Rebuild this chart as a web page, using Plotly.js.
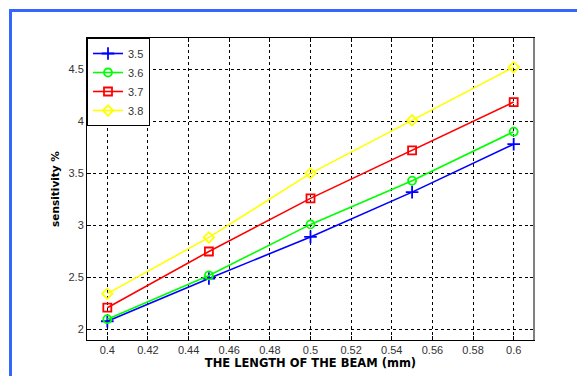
<!DOCTYPE html>
<html>
<head>
<meta charset="utf-8">
<script src="https://cdn.plot.ly/plotly-3.0.1.min.js"></script>
<style>
html,body{margin:0;padding:0;background:#fff;}
#wrap{position:relative;width:577px;height:376px;overflow:hidden;}
#chart{position:absolute;left:0;top:0;width:577px;height:376px;}
#bl{position:absolute;left:9px;top:9px;width:3px;height:367px;background:#3366ff;}
#bt{position:absolute;left:9px;top:9px;width:568px;height:3px;background:#3366ff;}
</style>
</head>
<body>
<div id="wrap">
<div id="chart"></div>
<div id="bl"></div>
<div id="bt"></div>
</div>
<script>
var beamLength = [0.4, 0.45, 0.5, 0.55, 0.6];
var seriesNames = ["3.5", "3.6", "3.7", "3.8"];
var s35 = [2.08, 2.49, 2.89, 3.32, 3.78];
var s36 = [2.10, 2.52, 3.01, 3.43, 3.90];
var s37 = [2.21, 2.75, 3.26, 3.72, 4.185];
var s38 = [2.345, 2.885, 3.50, 4.01, 4.52];
var xTicks = [0.4, 0.42, 0.44, 0.46, 0.48, 0.5, 0.52, 0.54, 0.56, 0.58, 0.6];
var xTickText = ["0.4","0.42","0.44","0.46","0.48","0.5","0.52","0.54","0.56","0.58","0.6"];
var yTicks = [2, 2.5, 3, 3.5, 4, 4.5];
var yTickText = ["2","2.5","3","3.5","4","4.5"];

var colors = ["#0000ff", "#00ff00", "#ff0000", "#ffff00"];
var symbols = ["cross-thin-open", "circle-open", "square-open", "diamond-open"];
var allS = [s35, s36, s37, s38];

var traces = allS.map(function(s, i){
  return {
    x: beamLength, y: s, name: seriesNames[i], type: "scatter", mode: "lines+markers",
    line: {color: colors[i], width: 1.6},
    marker: {symbol: symbols[i], size: i === 0 ? 9 : 8, color: colors[i], line: {color: colors[i], width: 1.8}}
  };
});

var axisFont = {family: "Arial, Liberation Sans, sans-serif", size: 11, color: "#333"};
var titleFontX = {family: "DejaVu Sans, sans-serif", size: 11.5, color: "#000", weight: "bold"};
var titleFontY = {family: "DejaVu Sans, sans-serif", size: 10.5, color: "#000", weight: "bold"};
var layout = {
  width: 577, height: 376,
  margin: {l: 87, r: 43, t: 38, b: 36, pad: 0},
  paper_bgcolor: "#fff", plot_bgcolor: "#fff",
  showlegend: true,
  legend: {x: 0, y: 1, xanchor: "left", yanchor: "top", bgcolor: "#fff",
    bordercolor: "#000", borderwidth: 1,
    font: {family: "Arial, Liberation Sans, sans-serif", size: 11, color: "#333"},
    tracegroupgap: 0, itemwidth: 30},
  shapes: [{type: "line", xref: "paper", yref: "paper", x0: 1, x1: 1, y0: 0, y1: 1,
    line: {color: "#808080", width: 2}}],
  xaxis: {range: [0.39, 0.61], tickvals: xTicks, ticktext: xTickText,
    ticks: "inside", ticklen: 4, tickcolor: "#000", showline: true, linecolor: "#000", linewidth: 1,
    mirror: "ticks", showgrid: true, gridcolor: "#000", griddash: "3px,3px", gridwidth: 1,
    zeroline: false, tickfont: axisFont,
    title: {text: "THE LENGTH OF THE BEAM (mm)", standoff: 3, font: titleFontX}},
  yaxis: {range: [1.9, 4.8], tickvals: yTicks, ticktext: yTickText,
    ticks: "inside", ticklen: 4, tickcolor: "#000", showline: true, linecolor: "#000", linewidth: 1,
    mirror: "ticks", showgrid: true, gridcolor: "#000", griddash: "3px,3px", gridwidth: 1,
    zeroline: false, tickfont: axisFont,
    title: {text: "sensitivity %", standoff: 6, font: titleFontY}}
};

Plotly.newPlot("chart", traces, layout, {displayModeBar: false, staticPlot: true});
</script>
</body>
</html>
